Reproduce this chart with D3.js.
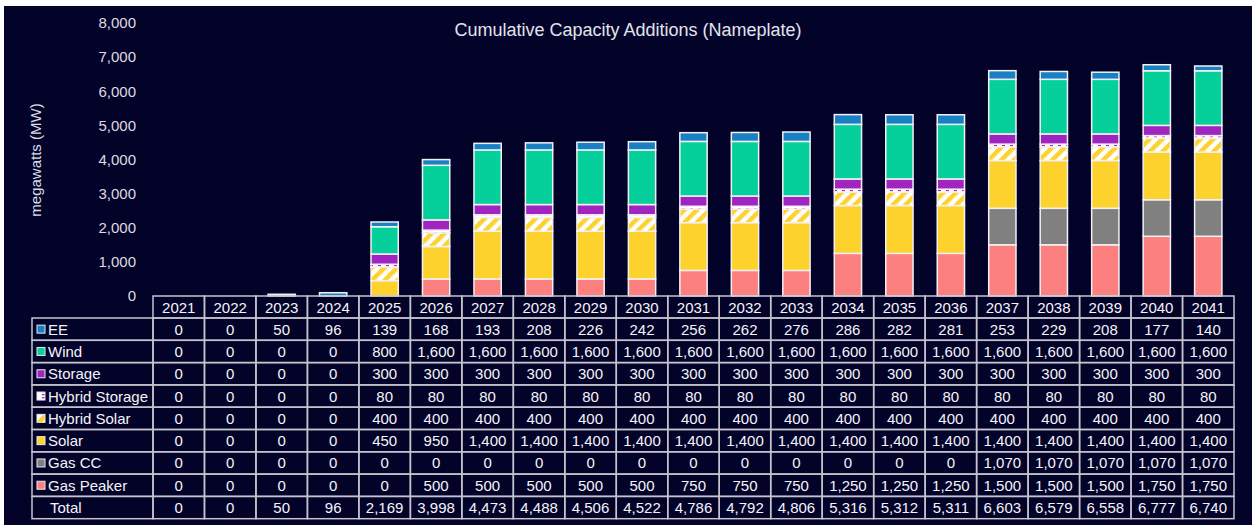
<!DOCTYPE html>
<html><head><meta charset="utf-8">
<script src="https://cdn.jsdelivr.net/npm/d3@7"></script>
<style>
html,body{margin:0;padding:0;background:#fff;}
svg{display:block;}
text{font-family:"Liberation Sans",Arial,sans-serif;}
</style></head>
<body>
<svg id="c" width="1252" height="525"></svg>
<script>
const years = ["2021","2022","2023","2024","2025","2026","2027","2028","2029","2030","2031","2032","2033","2034","2035","2036","2037","2038","2039","2040","2041"];
const seriesNames = ["EE","Wind","Storage","Hybrid Storage","Hybrid Solar","Solar","Gas CC","Gas Peaker"];
const ee            = [0,0,50,96,139,168,193,208,226,242,256,262,276,286,282,281,253,229,208,177,140];
const wind          = [0,0,0,0,800,1600,1600,1600,1600,1600,1600,1600,1600,1600,1600,1600,1600,1600,1600,1600,1600];
const storage       = [0,0,0,0,300,300,300,300,300,300,300,300,300,300,300,300,300,300,300,300,300];
const hybridStorage = [0,0,0,0,80,80,80,80,80,80,80,80,80,80,80,80,80,80,80,80,80];
const hybridSolar   = [0,0,0,0,400,400,400,400,400,400,400,400,400,400,400,400,400,400,400,400,400];
const solar         = [0,0,0,0,450,950,1400,1400,1400,1400,1400,1400,1400,1400,1400,1400,1400,1400,1400,1400,1400];
const gasCC         = [0,0,0,0,0,0,0,0,0,0,0,0,0,0,0,0,1070,1070,1070,1070,1070];
const gasPeaker     = [0,0,0,0,0,500,500,500,500,500,750,750,750,1250,1250,1250,1500,1500,1500,1750,1750];
const totals        = [0,0,50,96,2169,3998,4473,4488,4506,4522,4786,4792,4806,5316,5312,5311,6603,6579,6558,6777,6740];
const yTicks = [0,1000,2000,3000,4000,5000,6000,7000,8000];

const seriesValues = {"EE":ee,"Wind":wind,"Storage":storage,"Hybrid Storage":hybridStorage,"Hybrid Solar":hybridSolar,"Solar":solar,"Gas CC":gasCC,"Gas Peaker":gasPeaker};
const colors = {"EE":"#1a80c4","Wind":"#05d09b","Storage":"#a024bf","Hybrid Storage":"url(#hstor)","Hybrid Solar":"url(#hsol)","Solar":"#fdd22c","Gas CC":"#808080","Gas Peaker":"#fd8081"};
const stackOrder = seriesNames.slice().reverse(); // bottom to top

const svg = d3.select("#c");
const BG = "#03032a";
svg.append("rect").attr("x",4).attr("y",6).attr("width",1248).attr("height",519).attr("fill",BG);

const defs = svg.append("defs");
const ps = defs.append("pattern").attr("id","hsol").attr("patternUnits","userSpaceOnUse")
  .attr("width",9).attr("height",9).attr("patternTransform","rotate(45)");
ps.append("rect").attr("width",9).attr("height",9).attr("fill","#ffffff");
ps.append("rect").attr("width",4.5).attr("height",9).attr("fill","#fdd22c");
const pst = defs.append("pattern").attr("id","hstor").attr("patternUnits","userSpaceOnUse")
  .attr("width",8).attr("height",3);
pst.append("rect").attr("width",8).attr("height",3).attr("fill","#ffffff");
pst.append("rect").attr("x",2).attr("y",1).attr("width",3).attr("height",1.3).attr("fill","#a024bf");

const left = 153, right = 1234;
const xCell = d3.scaleBand().domain(years).range([left,right]).padding(0);
const xBar = d3.scaleBand().domain(years).range([left,right]).paddingInner(0.47).paddingOuter(0.235);
const y = d3.scaleLinear().domain([0,8000]).range([296,23]);

const FS = "15px";
// title
svg.append("text").attr("x",628).attr("y",36).attr("text-anchor","middle")
  .attr("fill","#e4e4ec").style("font-size","18px").text("Cumulative Capacity Additions (Nameplate)");

// y axis
const yAxis = d3.axisLeft(y).tickValues(yTicks).tickFormat(d3.format(",")).tickSize(0).tickPadding(0);
const ga = svg.append("g").attr("transform","translate(136,0)").call(yAxis);
ga.select(".domain").remove();
ga.selectAll("text").attr("fill","#dcdce4").style("font-size",FS).style("font-family","Liberation Sans, Arial, sans-serif");

svg.append("text").attr("transform","translate(41,160) rotate(-90)").attr("text-anchor","middle")
  .attr("fill","#dcdce4").style("font-size",FS).text("megawatts (MW)");

// stacked bars
const rows = years.map((yr,i)=>{const o={year:yr}; seriesNames.forEach(s=>o[s]=seriesValues[s][i]); return o;});
const stacked = d3.stack().keys(stackOrder)(rows);
const gb = svg.append("g");
stacked.forEach(layer=>{
  gb.selectAll(null).data(layer.filter(d=>d[1]-d[0]>0)).enter().append("rect")
    .attr("x",d=>xBar(d.data.year)).attr("width",xBar.bandwidth())
    .attr("y",d=>y(d[1])).attr("height",d=>y(d[0])-y(d[1]))
    .attr("fill",colors[layer.key]).attr("stroke","#f4f0f4").attr("stroke-width",1.5);
});

// table
const headerTop = 296, headerH = 22, rowH = 22.3, labelLeft = 32;
const tableRows = seriesNames.concat(["Total"]);
const tableVals = seriesNames.map(s=>seriesValues[s]).concat([totals]);
const gridColor = "#c4c4cc";
const gt = svg.append("g");
const fmt = d3.format(",");
years.forEach(yr=>{
  gt.append("rect").attr("x",xCell(yr)).attr("y",headerTop).attr("width",xCell.bandwidth()).attr("height",headerH)
    .attr("fill","none").attr("stroke",gridColor).attr("stroke-width",1.5);
  gt.append("text").attr("x",xCell(yr)+xCell.bandwidth()/2).attr("y",headerTop+headerH/2+5.5)
    .attr("text-anchor","middle").attr("fill","#f4f4f8").style("font-size",FS).text(yr);
});
tableRows.forEach((name,r)=>{
  const ty = headerTop+headerH+r*rowH;
  gt.append("rect").attr("x",labelLeft).attr("y",ty).attr("width",left-labelLeft).attr("height",rowH)
    .attr("fill","none").attr("stroke",gridColor).attr("stroke-width",1.5);
  if(name!=="Total"){
    gt.append("rect").attr("x",37).attr("y",ty+rowH/2-4).attr("width",8).attr("height",8)
      .attr("fill",colors[name]).attr("stroke","#e8e8ee").attr("stroke-width",1);
    gt.append("text").attr("x",48).attr("y",ty+rowH/2+5.5).attr("fill","#f4f4f8").style("font-size",FS).text(name);
  } else {
    gt.append("text").attr("x",50).attr("y",ty+rowH/2+5.5).attr("fill","#f4f4f8").style("font-size",FS).text(name);
  }
  years.forEach((yr,i)=>{
    gt.append("rect").attr("x",xCell(yr)).attr("y",ty).attr("width",xCell.bandwidth()).attr("height",rowH)
      .attr("fill","none").attr("stroke",gridColor).attr("stroke-width",1.5);
    gt.append("text").attr("x",xCell(yr)+xCell.bandwidth()/2).attr("y",ty+rowH/2+5.5)
      .attr("text-anchor","middle").attr("fill","#f4f4f8").style("font-size",FS).text(fmt(tableVals[r][i]));
  });
});
</script>
</body></html>
